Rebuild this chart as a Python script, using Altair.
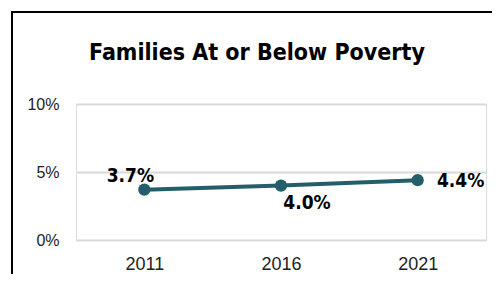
import altair as alt
import pandas as pd

years = ["2011", "2016", "2021"]
values = [0.037, 0.040, 0.044]
title_text = "Families At or Below Poverty"

df = pd.DataFrame({"year": years, "value": values})

LINE = "#255E6B"
CFONT = "DejaVu Sans Condensed, sans-serif"
AFONT = "Liberation Sans, Arial, sans-serif"

base = alt.Chart(df)

x_enc = alt.X("year:N", sort=years,
              scale=alt.Scale(type="point", padding=0.5),
              axis=alt.Axis(title=None, labelAngle=0, domain=False, ticks=False,
                            labelFontSize=18, labelColor="#222222",
                            labelFont=AFONT, labelPadding=15, grid=False))
y_enc = alt.Y("value:Q", scale=alt.Scale(domain=[0, 0.10], nice=False),
              axis=alt.Axis(title=None, values=[0, 0.05, 0.10], format=".0%",
                            domain=False, ticks=False, labelFontSize=16,
                            labelColor="#222222", labelFont=AFONT,
                            labelPadding=17, grid=True, gridColor="#d9d9d9",
                            gridWidth=2))

line = base.mark_line(color=LINE, strokeWidth=4).encode(x=x_enc, y=y_enc)
points = base.mark_point(filled=True, color=LINE, size=150, opacity=1).encode(
    x=alt.X("year:N", sort=years), y="value:Q")

def label(yr, dx, dy):
    return base.transform_filter(alt.datum.year == yr).mark_text(
        font=CFONT, fontWeight="bold", fontSize=19, color="#000000",
        dx=dx, dy=dy, baseline="middle", align="center"
    ).encode(x=alt.X("year:N", sort=years), y="value:Q",
             text=alt.Text("value:Q", format=".1%"))

labels = label("2011", -14, -14) + label("2016", 26, 17) + label("2021", 43, 1)

title = alt.Chart(pd.DataFrame({"t": [title_text]})).mark_text(
    font=CFONT, fontWeight="bold", fontSize=23, color="#000000",
    align="center", baseline="alphabetic"
).encode(text="t:N", x=alt.value(181), y=alt.value(-44))

frame = alt.Chart(pd.DataFrame({"a": [0]})).mark_rect(
    fill=None, fillOpacity=0, stroke="#000000", strokeWidth=2).encode(
    x=alt.value(-64), x2=alt.value(440), y=alt.value(-92), y2=alt.value(300))

chart = alt.layer(frame, title, line, points, labels).properties(
    width=410, height=136,
    autosize=alt.AutoSizeParams(type="none"),
    padding={"left": 68, "top": 96, "right": 6, "bottom": 34},
).configure_view(stroke=None).configure(background="white")

chart.save("out.html", embed_options={"renderer": "svg", "actions": False})
